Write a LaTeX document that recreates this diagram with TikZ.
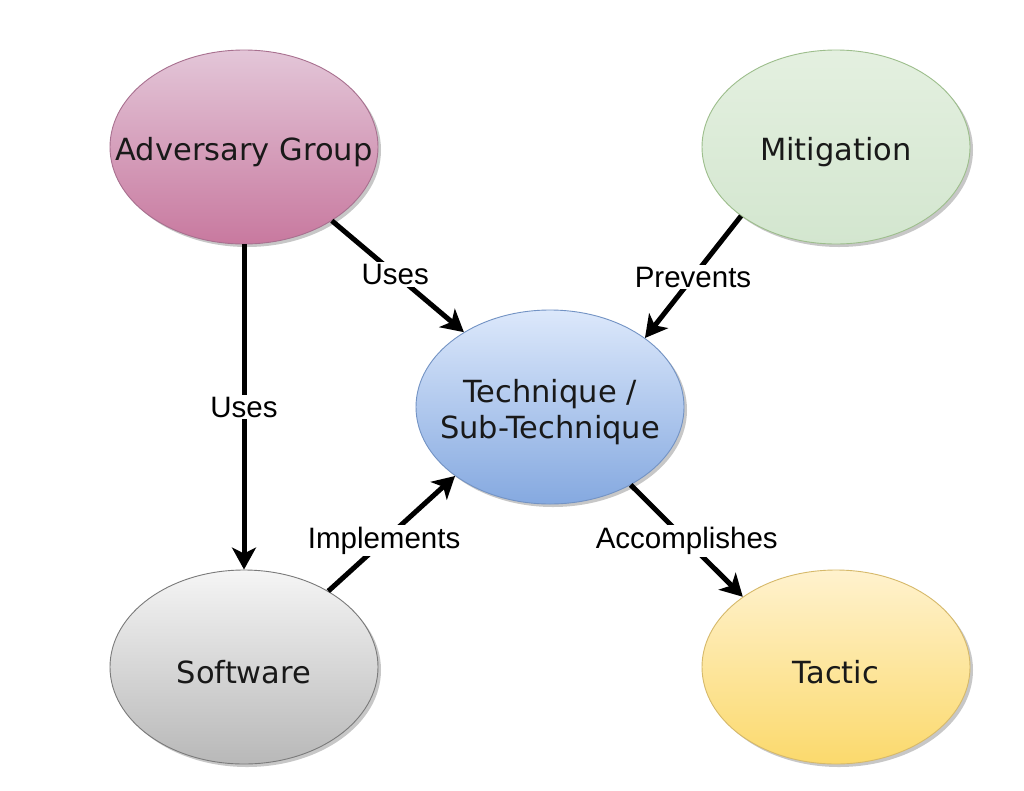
\documentclass[tikz,border=0pt]{standalone}
\usepackage{fontspec}
\setmainfont{DejaVu Sans}
\newfontfamily\lblfont{Liberation Sans}
\usetikzlibrary{arrows.meta,shadows,shapes.geometric}
\definecolor{advtop}{HTML}{E3C6D8}
\definecolor{advbot}{HTML}{C8799F}
\definecolor{advline}{HTML}{A8708F}
\definecolor{mittop}{HTML}{E4F0E0}
\definecolor{mitbot}{HTML}{D3E6CF}
\definecolor{mitline}{HTML}{9DBE8C}
\definecolor{tectop}{HTML}{DCE8FB}
\definecolor{tecbot}{HTML}{85A9E0}
\definecolor{tecline}{HTML}{7393C4}
\definecolor{softop}{HTML}{F5F5F5}
\definecolor{sofbot}{HTML}{B8B8B8}
\definecolor{sofline}{HTML}{7A7A7A}
\definecolor{tactop}{HTML}{FFF2CE}
\definecolor{tacbot}{HTML}{FBD96C}
\definecolor{tacline}{HTML}{D6B96A}
\tikzset{
  blob/.style={ellipse, minimum width=268pt, minimum height=194pt, inner sep=0pt,
    line width=0.9pt,
    drop shadow={shadow xshift=3pt, shadow yshift=-3pt, opacity=0.22, fill=black}},
  btext/.style={align=center, font=\fontsize{30.5}{36}\selectfont, inner sep=0pt, yshift=-5pt, text=black!90},
  conn/.style={line width=5pt, -{Stealth[length=22pt,width=24pt,inset=6pt]}},
  lbl/.style={fill=white, inner sep=2pt, font=\lblfont\fontsize{29.5}{32}\selectfont}
}
\begin{document}
\begin{tikzpicture}[x=1pt,y=-1pt]
\useasboundingbox (0,0) rectangle (1024,790);
\fill[white] (0,0) rectangle (1024,790);
\node[blob, draw=advline, top color=advtop, bottom color=advbot,
  label={[btext]center:Adversary Group}] (adv) at (244,147) {};
\node[blob, draw=mitline, top color=mittop, bottom color=mitbot,
  label={[btext]center:Mitigation}] (mit) at (836,147) {};
\node[blob, draw=tecline, top color=tectop, bottom color=tecbot,
  label={[btext]center:Technique /\\Sub-Technique}] (tec) at (550,407) {};
\node[blob, draw=sofline, top color=softop, bottom color=sofbot,
  label={[btext]center:Software}] (sof) at (244,667) {};
\node[blob, draw=tacline, top color=tactop, bottom color=tacbot,
  label={[btext]center:Tactic}] (tac) at (836,667) {};
\draw[conn] (adv.-40) -- node[lbl, pos=0.48] (l1) {Uses} (tec.139);
\draw[conn] (mit.216.7) -- node[lbl, pos=0.5] (l2) {Prevents} (tec.36.4);
\draw[conn] (adv.-90) -- node[lbl, pos=0.5] (l3) {Uses} (sof.90);
\draw[conn] (sof.42) -- node[lbl, pos=0.44] (l4) {Implements} (tec.216.7);
\draw[conn] (tec.-44.6) -- node[lbl, pos=0.5] (l5) {Accomplishes} (tac.143.3);
\end{tikzpicture}
\end{document}
